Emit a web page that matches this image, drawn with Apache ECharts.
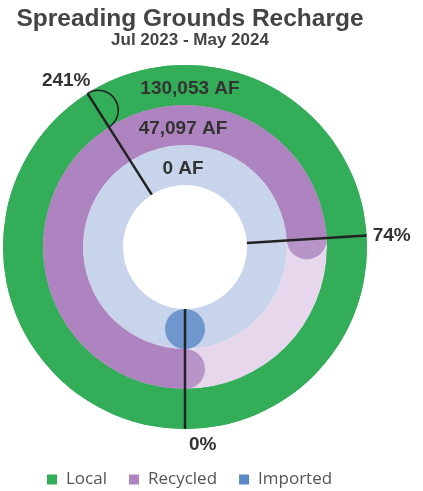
<!DOCTYPE html>
<html>
<head>
<meta charset="utf-8">
<script src="https://cdn.jsdelivr.net/npm/echarts@6/dist/echarts.min.js"></script>
<style>
html,body{margin:0;padding:0;background:#fff;}
#chart{width:423px;height:491px;}
</style>
</head>
<body>
<div id="chart"></div>
<script>
// ---- data ----
const categories = ['Imported', 'Recycled', 'Local'];   // radius axis, inner -> outer
const seriesNames = ['Local', 'Recycled', 'Imported'];
const percentValues = [241, 74, 0];                      // % of target, per series
const volumeLabels = ['130,053 AF', '47,097 AF', '0 AF'];
const percentLabels = ['241%', '74%', '0%'];

// ---- styles ----
const colors = { Local: '#34ad59', Recycled: '#ad84bf', Imported: '#5a87c6' };
const trackColors = { Local: '#34ad59', Recycled: '#e6d7ec', Imported: '#c7d4eb' };

const catIndex = name => categories.indexOf(name);

const chart = echarts.init(document.getElementById('chart'), null, { renderer: 'canvas' });

const trackData = categories.map(c => ({ value: 100, itemStyle: { color: trackColors[c] } }));

const barSeries = seriesNames.map((name, i) => {
  const data = categories.map(c => (c === name ? Math.min(percentValues[i], 100) : '-'));
  return {
    name: name,
    type: 'bar',
    coordinateSystem: 'polar',
    data: data,
    itemStyle: { color: colors[name] },
    barGap: '-100%',
    barCategoryGap: '0%',
    silent: true,
    z: 2
  };
});

// round caps at both ends of a partial ring
const capData = [];
seriesNames.forEach((name, i) => {
  const v = percentValues[i];
  if (v < 100) {
    capData.push({ value: [catIndex(name), 0], itemStyle: { color: colors[name] } });
    if (v > 0) capData.push({ value: [catIndex(name), v], itemStyle: { color: colors[name] } });
  }
});

const markerData = seriesNames.map((name, i) => [catIndex(name), percentValues[i]]);

const option = {
  animation: false,
  title: {
    text: 'Spreading Grounds Recharge',
    subtext: 'Jul 2023 - May 2024',
    left: 185,
    top: 2,
    textAlign: 'center',
    itemGap: 0,
    textStyle: { fontFamily: 'Liberation Sans', fontSize: 24.5, fontWeight: 'bold', color: '#444' },
    subtextStyle: { fontFamily: 'Liberation Sans', fontSize: 17, fontWeight: 'bold', color: '#444' }
  },
  legend: {
    data: seriesNames,
    left: 47,
    top: 471,
    padding: 0,
    icon: 'rect',
    itemWidth: 10,
    itemHeight: 10,
    itemGap: 22,
    textStyle: { fontFamily: 'Open Sans', fontSize: 17, color: '#555', padding: [0, 0, 0, 4] }
  },
  polar: { center: [185, 247], radius: [62, 182] },
  angleAxis: {
    type: 'value', min: 0, max: 100, startAngle: 270, clockwise: true, show: false
  },
  radiusAxis: {
    type: 'category', data: categories, show: false
  },
  series: [
    {
      name: 'track',
      type: 'bar',
      coordinateSystem: 'polar',
      data: trackData,
      barGap: '-100%',
      barCategoryGap: '0%',
      silent: true,
      z: 1
    },
    ...barSeries,
    {
      name: 'caps',
      type: 'scatter',
      coordinateSystem: 'polar',
      symbol: 'circle',
      symbolSize: 40,
      data: capData,
      silent: true,
      z: 3
    },
    {
      name: 'markers',
      type: 'custom',
      coordinateSystem: 'polar',
      data: markerData,
      silent: true,
      z: 5,
      renderItem: function (params, api) {
        const cs = params.coordSys;
        const cat = api.value(0);
        const pct = api.value(1);
        const ang = pct >= 100 ? pct % 100 : pct;
        const p = api.coord([cat, ang]);
        const dx = p[0] - cs.cx, dy = p[1] - cs.cy;
        const L = Math.sqrt(dx * dx + dy * dy);
        const ux = dx / L, uy = dy / L;
        const r0 = cs.r0, r = cs.r;
        const ex = cs.cx + ux * r, ey = cs.cy + uy * r;
        const children = [];
        children.push({
          type: 'line',
          shape: { x1: cs.cx + ux * r0, y1: cs.cy + uy * r0, x2: ex, y2: ey },
          style: { stroke: '#222', lineWidth: 2.5 }
        });
        if (pct >= 100) {
          const a = Math.atan2(uy, ux);
          children.push({
            type: 'arc',
            shape: { cx: cs.cx + ux * L, cy: cs.cy + uy * L, r: (r - r0) / categories.length / 2,
                     startAngle: a, endAngle: a + Math.PI, clockwise: true },
            style: { stroke: '#222', lineWidth: 1.5, fill: null }
          });
        }
        let tx, ty, align, valign;
        if (uy > 0.7) { tx = ex + 4; ty = ey + 6; align = 'left'; valign = 'top'; }
        else if (ux > 0.7) { tx = ex + 6; ty = ey; align = 'left'; valign = 'middle'; }
        else { tx = ex + 3; ty = ey - 3; align = 'right'; valign = 'bottom'; }
        children.push({
          type: 'text',
          style: {
            x: tx, y: ty, text: percentLabels[params.dataIndex],
            align: align, verticalAlign: valign,
            font: 'bold 19px "Liberation Sans"', fill: '#333'
          }
        });
        const top = api.coord([cat, 50]);
        children.push({
          type: 'text',
          style: {
            x: top[0] + (params.dataIndex === 0 ? 5 : -2), y: top[1] + 4, text: volumeLabels[params.dataIndex],
            align: 'center', verticalAlign: 'middle',
            font: 'bold 19px "Liberation Sans"', fill: '#333'
          }
        });
        return { type: 'group', children: children };
      }
    }
  ]
};

chart.setOption(option);
</script>
</body>
</html>
